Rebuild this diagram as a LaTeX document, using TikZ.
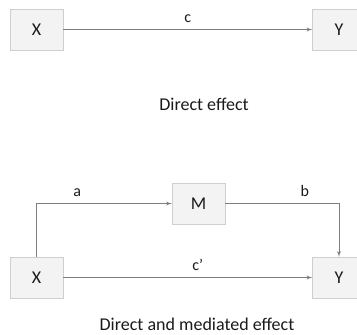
\documentclass[tikz,border=0pt]{standalone}
\usepackage{fontspec}
\setmainfont{Carlito}
\usetikzlibrary{shapes,arrows,calc}
\definecolor{boxfill}{HTML}{F3F3F3}
\definecolor{boxline}{HTML}{CFCFCF}
\definecolor{linegray}{HTML}{7F7F7F}
\definecolor{textgray}{HTML}{1A1A1A}
\tikzstyle{module} = [rectangle, draw=boxline, fill=boxfill, sharp corners, text=textgray, %
minimum width=53pt, minimum height=41pt, font=\fontsize{18}{20}\selectfont, node distance=302.5pt]
\tikzstyle{arrow} = [draw=linegray, line width=0.9pt, -latex']
\tikzstyle{pathlabel} = [text=textgray, font=\fontsize{16}{18}\selectfont]
\tikzstyle{caption} = [text=textgray, font=\fontsize{18}{20}\selectfont]

\begin{document}
\begin{tikzpicture}[x=1pt, y=-1pt, auto]
    \useasboundingbox (0,0) rectangle (357,335);
    % direct effect
    \node[module] (xtop) at (36.5,29.5) {X};
    \node[module, right of=xtop] (ytop) {Y};
    \node[caption] (capdirect) at (204,104) {Direct effect};
    % direct and mediated effect
    \node[module, below of=xtop, node distance=248pt] (xbot) {X};
    \node[module, right of=xbot] (ybot) {Y};
    \node[module] (med) at ($(xbot)+(162,-74)$) {M};
    \node[caption] (capmediated) at (197,324) {Direct and mediated effect};
    % draw arrows
    \path[arrow] (xtop) -- node[pathlabel, yshift=3pt] {c} (ytop);
    \path[arrow] (xbot) -- node[pathlabel, pos=0.54, yshift=3pt] {c’} (ybot);
    \path[arrow] (xbot) |- node[pathlabel, pos=0.65, yshift=3pt] {a} (med);
    \path[arrow] (med) -| node[pathlabel, pos=0.35, yshift=3pt] {b} (ybot);
  \end{tikzpicture}
\end{document}
